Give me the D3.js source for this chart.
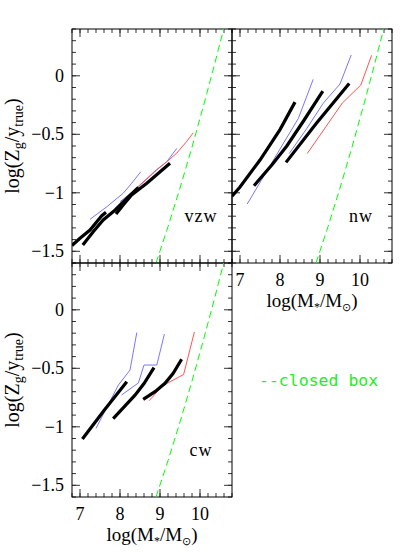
<!DOCTYPE html>
<html>
<head>
<meta charset="utf-8">
<script src="https://cdn.jsdelivr.net/npm/d3@7"></script>
<style>
  body { margin: 0; background: #fff; }
  svg { display: block; }
</style>
</head>
<body>
<svg id="chart" width="415" height="553"></svg>
<script>
// tick values
const xTicks = [7, 8, 9, 10];
const yTicks = [0, -0.5, -1, -1.5];
const xMinor = d3.range(68, 109, 2).map(d => d / 10);
const yMinor = d3.range(-16, 5, 1).map(d => d / 10);

// closed box model (green dashed), same in every panel
const closedBox = [[8.9, -1.6], [9.2, -1.29], [9.5, -0.96], [9.8, -0.61], [10.1, -0.24], [10.35, 0.08], [10.6, 0.41], [10.7, 0.54]];

// vzw panel
const vzwBlack = [
  [[6.8, -1.45], [7.0, -1.389], [7.25, -1.318], [7.42, -1.247], [7.54, -1.198], [7.65, -1.167]],
  [[7.07, -1.446], [7.33, -1.332], [7.58, -1.232], [7.88, -1.147], [8.17, -1.047], [8.46, -0.953]],
  [[7.9, -1.181], [8.08, -1.104], [8.29, -1.019], [8.67, -0.919], [9.25, -0.748]]
];
const vzwBlue = [
  [[7.25, -1.227], [7.67, -1.119], [8.08, -1.004], [8.29, -0.919], [8.52, -0.82]],
  [[8.0, -1.076], [8.42, -0.962], [8.92, -0.805], [9.17, -0.734], [9.42, -0.62]]
];
const vzwRed = [
  [[8.38, -0.97], [8.92, -0.8], [9.17, -0.734], [9.42, -0.66], [9.67, -0.56], [9.83, -0.487]]
];

// nw panel
const nwBlack = [
  [[6.8, -1.03], [7.0, -0.95], [7.5, -0.72], [8.0, -0.46], [8.375, -0.225]],
  [[7.35, -0.94], [7.8, -0.76], [8.17, -0.6], [8.6, -0.38], [9.07, -0.13]],
  [[8.15, -0.74], [8.9, -0.41], [9.73, -0.065]]
];
const nwBlue = [
  [[7.18, -1.096], [7.8, -0.74], [8.46, -0.363], [8.83, -0.03]],
  [[8.23, -0.665], [8.67, -0.45], [9.08, -0.235], [9.5, -0.07], [9.78, 0.178]]
];
const nwRed = [
  [[8.68, -0.665], [9.56, -0.232], [10.02, -0.079], [10.29, 0.175]]
];

// cw panel
const cwBlack = [
  [[7.06, -1.105], [7.6, -0.86], [8.17, -0.615]],
  [[7.83, -0.93], [8.375, -0.73], [8.6, -0.63], [8.85, -0.495]],
  [[8.58, -0.765], [8.875, -0.70], [9.125, -0.628], [9.33, -0.543], [9.54, -0.423]]
];
const cwBlue = [
  [[7.4, -1.013], [7.96, -0.643], [8.25, -0.515], [8.42, -0.195]],
  [[8.04, -0.728], [8.46, -0.625], [8.6, -0.472], [8.92, -0.472], [9.11, -0.208]]
];
const cwRed = [
  [[8.73, -0.777], [9.06, -0.65], [9.59, -0.553], [9.86, -0.19]]
];

const panels = [
  { name: "vzw", left: 72, top: 29, black: vzwBlack, blue: vzwBlue, red: vzwRed, yLab: true, xLab: false },
  { name: "nw", left: 232, top: 29, black: nwBlack, blue: nwBlue, red: nwRed, yLab: false, xLab: true },
  { name: "cw", left: 72, top: 263, black: cwBlack, blue: cwBlue, red: cwRed, yLab: true, xLab: true }
];

const W = 160, H = 234;
const serif = "'Liberation Serif', 'Times New Roman', serif";

const svg = d3.select("#chart");

const x = d3.scaleLinear().domain([6.8, 10.8]).range([0, W]);
const y = d3.scaleLinear().domain([-1.6, 0.4]).range([H, 0]);

const line = d3.line().x(d => x(d[0])).y(d => y(d[1]));

svg.append("defs").append("clipPath").attr("id", "clip")
  .append("rect").attr("width", W).attr("height", H);

// inward ticks on all four sides of a panel
function drawTicks(g, vals, len, horizontal) {
  const t = g.append("g").attr("stroke", "#333").attr("stroke-width", 1);
  if (horizontal) {
    t.selectAll(null).data(vals).enter().append("line")
      .attr("x1", d => x(d)).attr("x2", d => x(d)).attr("y1", H).attr("y2", H - len);
    t.selectAll(null).data(vals).enter().append("line")
      .attr("x1", d => x(d)).attr("x2", d => x(d)).attr("y1", 0).attr("y2", len);
  } else {
    t.selectAll(null).data(vals).enter().append("line")
      .attr("y1", d => y(d)).attr("y2", d => y(d)).attr("x1", 0).attr("x2", len);
    t.selectAll(null).data(vals).enter().append("line")
      .attr("y1", d => y(d)).attr("y2", d => y(d)).attr("x1", W).attr("x2", W - len);
  }
}

panels.forEach(p => {
  const g = svg.append("g").attr("transform", `translate(${p.left},${p.top})`);

  drawTicks(g, xMinor, 4, true);
  drawTicks(g, yMinor, 4, false);
  drawTicks(g, xTicks, 8, true);
  drawTicks(g, yTicks, 8, false);

  if (p.xLab) {
    g.append("g").selectAll("text").data(xTicks).enter().append("text")
      .attr("x", d => x(d)).attr("y", H + 22.5).attr("text-anchor", "middle")
      .attr("font-family", serif).attr("font-size", 18)
      .text(d => d);
  }
  if (p.yLab) {
    g.append("g").selectAll("text").data(yTicks).enter().append("text")
      .attr("x", -8).attr("y", d => y(d) + 6).attr("text-anchor", "end")
      .attr("font-family", serif).attr("font-size", 18)
      .text(d => d === 0 ? "0" : String(d).replace("-", "\u2212"));
  }

  // frame
  g.append("rect").attr("width", W).attr("height", H)
    .attr("fill", "none").attr("stroke", "#000").attr("stroke-width", 1);

  const plot = g.append("g").attr("clip-path", "url(#clip)");

  plot.append("path").datum(closedBox).attr("d", line)
    .attr("fill", "none").attr("stroke", "#00ff00").attr("stroke-width", 1)
    .attr("stroke-dasharray", "7,4");

  plot.selectAll(".blue").data(p.blue).enter().append("path")
    .attr("d", line).attr("fill", "none").attr("stroke", "#7777ff").attr("stroke-width", 1);

  plot.selectAll(".red").data(p.red).enter().append("path")
    .attr("d", line).attr("fill", "none").attr("stroke", "#ff5555").attr("stroke-width", 1);

  plot.selectAll(".black").data(p.black).enter().append("path")
    .attr("d", line).attr("fill", "none").attr("stroke", "#000").attr("stroke-width", 3.2);

  g.append("text").attr("x", 129).attr("y", 193).attr("text-anchor", "middle")
    .attr("font-family", serif).attr("font-size", 18).attr("letter-spacing", 1)
    .text(p.name);

  if (p.xLab) {
    const t = g.append("text").attr("x", W / 2).attr("y", H + 44).attr("text-anchor", "middle")
      .attr("font-family", serif).attr("font-size", 19);
    t.append("tspan").text("log(M");
    t.append("tspan").attr("font-size", 12).attr("dy", 4).text("*");
    t.append("tspan").attr("dy", -4).text("/M");
    t.append("tspan").attr("font-size", 11).attr("dy", 4).text("\u2299");
    t.append("tspan").attr("dy", -4).text(")");
  }

  if (p.yLab) {
    const t = g.append("text")
      .attr("transform", `translate(${19 - p.left},${H / 2}) rotate(-90)`)
      .attr("text-anchor", "middle")
      .attr("font-family", serif).attr("font-size", 20);
    t.append("tspan").text("log(Z");
    t.append("tspan").attr("font-size", 14).attr("dy", 4).text("g");
    t.append("tspan").attr("dy", -4).text("/y");
    t.append("tspan").attr("font-size", 14).attr("dy", 4).text("true");
    t.append("tspan").attr("dy", -4).text(")");
  }
});

// legend
svg.append("text").attr("x", 259).attr("y", 386)
  .attr("font-family", "'DejaVu Sans Mono', 'Liberation Mono', monospace")
  .attr("font-size", 16.5).attr("fill", "#22ee22")
  .text("--closed box");
</script>
</body>
</html>
